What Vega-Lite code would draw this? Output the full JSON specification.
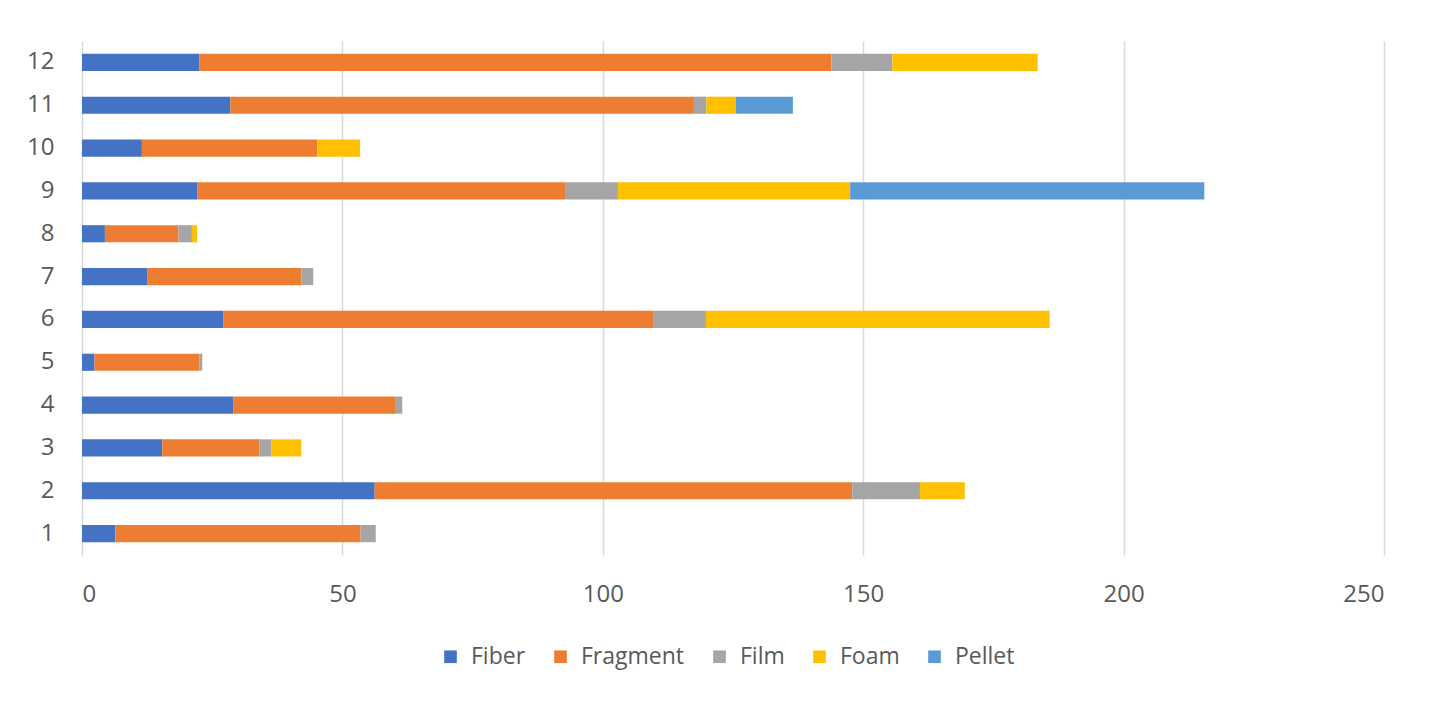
{
  "$schema": "https://vega.github.io/schema/vega-lite/v6.json",
  "autosize": "none",
  "width": 1302,
  "height": 514,
  "padding": {"left": 82, "top": 41, "right": 64, "bottom": 149},
  "background": "white",
  "config": {
    "view": {"stroke": null},
    "font": "Open Sans",
    "axis": {"labelFont": "Open Sans", "labelColor": "#595959", "labelFontSize": 24},
    "legend": {"labelFont": "Open Sans", "labelColor": "#595959", "labelFontSize": 23}
  },
  "data": {
    "values": [
      {"site": 1, "type": "Fiber", "k": 1, "count": 6.4},
      {"site": 1, "type": "Fragment", "k": 2, "count": 47.1},
      {"site": 1, "type": "Film", "k": 3, "count": 2.9},
      {"site": 2, "type": "Fiber", "k": 1, "count": 56.2},
      {"site": 2, "type": "Fragment", "k": 2, "count": 91.7},
      {"site": 2, "type": "Film", "k": 3, "count": 13.0},
      {"site": 2, "type": "Foam", "k": 4, "count": 8.6},
      {"site": 3, "type": "Fiber", "k": 1, "count": 15.4},
      {"site": 3, "type": "Fragment", "k": 2, "count": 18.7},
      {"site": 3, "type": "Film", "k": 3, "count": 2.3},
      {"site": 3, "type": "Foam", "k": 4, "count": 5.7},
      {"site": 4, "type": "Fiber", "k": 1, "count": 29.1},
      {"site": 4, "type": "Fragment", "k": 2, "count": 31.0},
      {"site": 4, "type": "Film", "k": 3, "count": 1.4},
      {"site": 5, "type": "Fiber", "k": 1, "count": 2.4},
      {"site": 5, "type": "Fragment", "k": 2, "count": 20.1},
      {"site": 5, "type": "Film", "k": 3, "count": 0.6},
      {"site": 6, "type": "Fiber", "k": 1, "count": 27.1},
      {"site": 6, "type": "Fragment", "k": 2, "count": 82.7},
      {"site": 6, "type": "Film", "k": 3, "count": 10.0},
      {"site": 6, "type": "Foam", "k": 4, "count": 66.0},
      {"site": 7, "type": "Fiber", "k": 1, "count": 12.5},
      {"site": 7, "type": "Fragment", "k": 2, "count": 29.6},
      {"site": 7, "type": "Film", "k": 3, "count": 2.3},
      {"site": 8, "type": "Fiber", "k": 1, "count": 4.4},
      {"site": 8, "type": "Fragment", "k": 2, "count": 14.1},
      {"site": 8, "type": "Film", "k": 3, "count": 2.6},
      {"site": 8, "type": "Foam", "k": 4, "count": 1.0},
      {"site": 9, "type": "Fiber", "k": 1, "count": 22.1},
      {"site": 9, "type": "Fragment", "k": 2, "count": 70.8},
      {"site": 9, "type": "Film", "k": 3, "count": 10.0},
      {"site": 9, "type": "Foam", "k": 4, "count": 44.6},
      {"site": 9, "type": "Pellet", "k": 5, "count": 68.0},
      {"site": 10, "type": "Fiber", "k": 1, "count": 11.5},
      {"site": 10, "type": "Fragment", "k": 2, "count": 33.7},
      {"site": 10, "type": "Foam", "k": 4, "count": 8.2},
      {"site": 11, "type": "Fiber", "k": 1, "count": 28.5},
      {"site": 11, "type": "Fragment", "k": 2, "count": 89.0},
      {"site": 11, "type": "Film", "k": 3, "count": 2.4},
      {"site": 11, "type": "Foam", "k": 4, "count": 5.6},
      {"site": 11, "type": "Pellet", "k": 5, "count": 11.0},
      {"site": 12, "type": "Fiber", "k": 1, "count": 22.5},
      {"site": 12, "type": "Fragment", "k": 2, "count": 121.4},
      {"site": 12, "type": "Film", "k": 3, "count": 11.7},
      {"site": 12, "type": "Foam", "k": 4, "count": 27.9}
    ]
  },
  "mark": {"type": "bar"},
  "encoding": {
    "y": {
      "field": "site", "type": "ordinal", "sort": "descending",
      "scale": {"paddingInner": 0.6, "paddingOuter": 0.3},
      "axis": {"title": null, "domain": false, "ticks": false, "labelPadding": 28, "grid": false}
    },
    "x": {
      "field": "count", "type": "quantitative", "stack": "zero",
      "scale": {"domain": [0, 250], "nice": false},
      "axis": {"title": null, "values": [0, 50, 100, 150, 200, 250], "domain": false, "ticks": false, "labelPadding": 27, "grid": true, "gridColor": "#D9D9D9", "gridWidth": 1.5}
    },
    "order": {"field": "k", "type": "quantitative", "sort": "ascending"},
    "color": {
      "field": "type", "type": "nominal",
      "sort": ["Fiber", "Fragment", "Film", "Foam", "Pellet"],
      "scale": {"domain": ["Fiber", "Fragment", "Film", "Foam", "Pellet"], "range": ["#4472C4", "#ED7D31", "#A5A5A5", "#FFC000", "#5B9BD5"]},
      "legend": {"title": null, "orient": "none", "legendX": 357, "legendY": 604, "direction": "horizontal", "symbolType": "square", "symbolSize": 160, "symbolStrokeWidth": 0, "columnPadding": 23, "labelOffset": 9}
    }
  }
}
